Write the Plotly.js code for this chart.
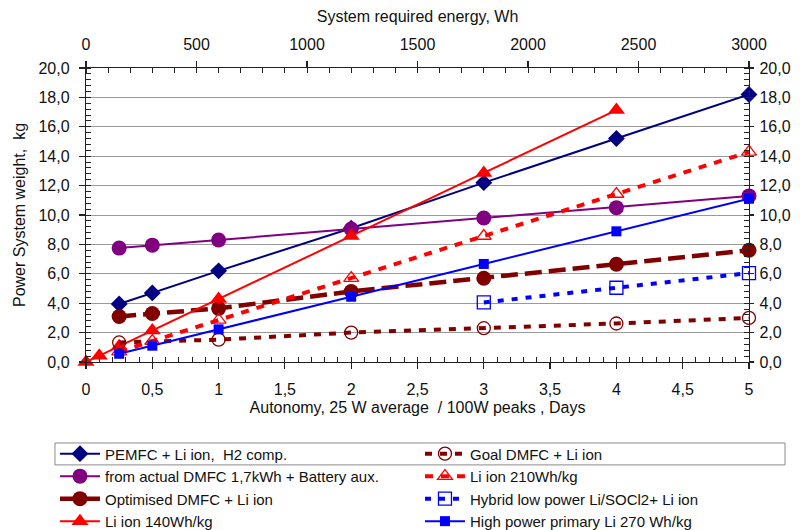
<!DOCTYPE html>
<html>
<head>
<meta charset="utf-8">
<script src="https://cdn.plot.ly/plotly-3.0.1.min.js"></script>
<style>
  html, body { margin: 0; padding: 0; background: #fff; }
  #chart { width: 800px; height: 530px; }
</style>
</head>
<body>
<div id="chart"></div>
<script>
// Autonomy in days (25 W average / 100 W peaks)
const daysFull = [0.25, 0.5, 1, 2, 3, 4, 5];
const daysLi140 = [0, 0.1, 0.25, 0.5, 1, 2, 3, 4];
const daysGoal = [0.25, 1, 2, 3, 4, 5];
const daysHybrid = [3, 4, 5];

// Power system weight, kg
const pemfc = [3.95, 4.7, 6.2, 9.1, 12.2, 15.2, 18.2];
const actualDmfc = [7.75, 7.95, 8.3, 9.05, 9.8, 10.5, 11.3];
const optimisedDmfc = [3.1, 3.3, 3.65, 4.8, 5.7, 6.65, 7.6];
const li140 = [0, 0.43, 1.07, 2.14, 4.29, 8.57, 12.86, 17.14];
const goalDmfc = [1.33, 1.52, 2.0, 2.3, 2.62, 3.0];
const li210 = [0.71, 1.43, 2.86, 5.71, 8.57, 11.43, 14.29];
const hybridLow = [4.05, 5.05, 6.05];
const highPower = [0.56, 1.11, 2.22, 4.44, 6.67, 8.89, 11.11];

const seriesNames = [
  'PEMFC + Li ion,  H2 comp.',
  'from actual DMFC 1,7kWh + Battery aux.',
  'Optimised DMFC + Li ion',
  'Li ion 140Wh/kg',
  'Goal DMFC + Li ion',
  'Li ion 210Wh/kg',
  'Hybrid low power Li/SOCl2+ Li ion',
  'High power primary Li 270 Wh/kg'
];

const NAVY = '#000080', PURPLE = '#800080', MAROON = '#800000', RED = '#ff0000', BLUE = '#0000ff';
const FONT = '"Liberation Sans", Arial, sans-serif';

function series(x, y, name, rank, line, marker) {
  return { x, y, name, legendrank: rank, type: 'scatter', mode: 'lines+markers',
           line, marker, hoverinfo: 'x+y+name', cliponaxis: false };
}

const data = [
  series(daysFull, pemfc, seriesNames[0], 1,
    { color: NAVY, width: 2 }, { symbol: 'diamond', size: 13, color: NAVY }),
  series(daysFull, actualDmfc, seriesNames[1], 3,
    { color: PURPLE, width: 2 }, { symbol: 'circle', size: 15, color: PURPLE }),
  series(daysFull, optimisedDmfc, seriesNames[2], 5,
    { color: MAROON, width: 4.5, dash: '17px,7px' }, { symbol: 'circle', size: 15, color: MAROON }),
  series(daysLi140, li140, seriesNames[3], 7,
    { color: RED, width: 2 }, { symbol: 'triangle-up', size: 15, color: RED }),
  series(daysGoal, goalDmfc, seriesNames[4], 2,
    { color: MAROON, width: 4, dash: '7px,8px' },
    { symbol: 'circle-open', size: 13, color: MAROON, line: { width: 1.3, color: MAROON } }),
  series(daysFull, li210, seriesNames[5], 4,
    { color: RED, width: 4, dash: '8px,8px' },
    { symbol: 'triangle-up-open', size: 13, color: RED, line: { width: 1.3, color: RED } }),
  series(daysHybrid, hybridLow, seriesNames[6], 6,
    { color: BLUE, width: 4, dash: '6px,8px' },
    { symbol: 'square-open', size: 13, color: BLUE, line: { width: 1.3, color: BLUE } }),
  series(daysFull, highPower, seriesNames[7], 8,
    { color: BLUE, width: 2 }, { symbol: 'square', size: 10, color: BLUE }),
  // empty carrier so the energy (top) and mirrored weight (right) axes are drawn
  { x: [], y: [], xaxis: 'x2', yaxis: 'y2', type: 'scatter', mode: 'lines',
    showlegend: false, hoverinfo: 'skip' }
];

const axisCommon = {
  showline: true, linecolor: '#222', linewidth: 1.2,
  ticks: 'outside', ticklen: 6, tickcolor: '#222', tickwidth: 1.2,
  tickfont: { family: FONT, size: 16, color: '#111' },
  zeroline: false, showgrid: false, fixedrange: true
};

const layout = {
  width: 800, height: 530,
  margin: { l: 86, r: 51, t: 68, b: 168, autoexpand: false },
  paper_bgcolor: '#fff', plot_bgcolor: '#fff',
  separators: ',.',
  font: { family: FONT, size: 16, color: '#111' },
  showlegend: true,
  xaxis: Object.assign({}, axisCommon, {
    range: [0, 5], dtick: 0.5, tick0: 0,
    ticklabelstandoff: 7,
    minor: { ticks: 'inside', dtick: 0.1, ticklen: 5, tickcolor: '#222', tickwidth: 1 },
    title: { text: 'Autonomy, 25 W average  / 100W peaks , Days',
             font: { family: FONT, size: 16, color: '#111' }, standoff: 4 }
  }),
  xaxis2: Object.assign({}, axisCommon, {
    overlaying: 'x', side: 'top', anchor: 'y',
    range: [0, 3000], dtick: 500, tick0: 0,
    ticklabelstandoff: 4,
    minor: { ticks: 'inside', dtick: 100, ticklen: 5, tickcolor: '#222', tickwidth: 1 },
    title: { text: 'System required energy, Wh',
             font: { family: FONT, size: 16, color: '#111' }, standoff: 9 }
  }),
  yaxis: Object.assign({}, axisCommon, {
    range: [0, 20], dtick: 2, tick0: 0, tickformat: '.1f',
    showgrid: true, gridcolor: '#9a9a9a', gridwidth: 1,
    ticklabelstandoff: 6,
    minor: { ticks: 'inside', dtick: 0.4, ticklen: 5, tickcolor: '#222', tickwidth: 1 },
    title: { text: 'Power System weight,  kg',
             font: { family: FONT, size: 16, color: '#111' }, standoff: 8 }
  }),
  yaxis2: Object.assign({}, axisCommon, {
    overlaying: 'y', side: 'right', anchor: 'x',
    range: [0, 20], dtick: 2, tick0: 0, tickformat: '.1f',
    ticklen: 4, ticklabelstandoff: 2,
    minor: { ticks: 'inside', dtick: 0.4, ticklen: 5, tickcolor: '#222', tickwidth: 1 }
  }),
  // frame around the legend, left open at the bottom edge of the page
  shapes: [{
    type: 'rect', xref: 'paper', yref: 'paper',
    x0: -0.0468, x1: 1.0543, y0: -0.2755, y1: -0.35,
    line: { color: '#8a8a8a', width: 1 }, fillcolor: 'rgba(0,0,0,0)', layer: 'below'
  }],
  legend: {
    orientation: 'h', traceorder: 'normal',
    x: -0.0468, xanchor: 'left', xref: 'paper',
    y: -0.2565, yanchor: 'top', yref: 'paper',
    entrywidth: 310, entrywidthmode: 'pixels',
    itemwidth: 40,
    bgcolor: 'rgba(0,0,0,0)', borderwidth: 0,
    font: { family: FONT, size: 15, color: '#111' }
  }
};

Plotly.newPlot('chart', data, layout, { staticPlot: true, displayModeBar: false });
</script>
</body>
</html>
